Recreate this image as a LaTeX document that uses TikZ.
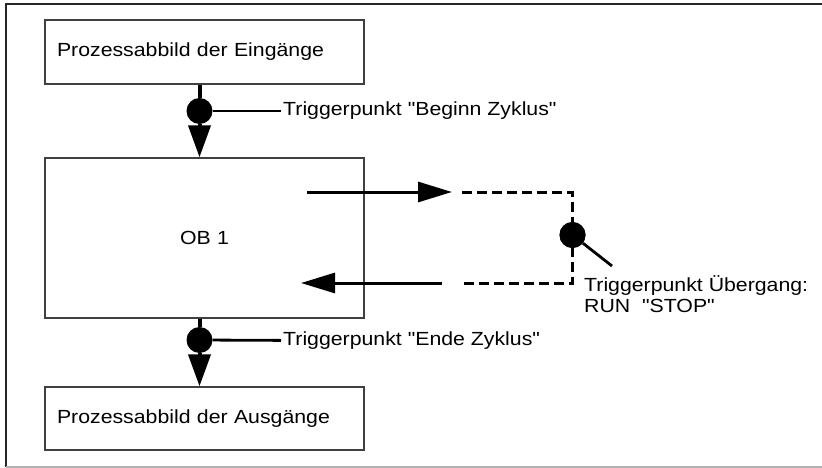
\documentclass[tikz,border=0pt]{standalone}
\usepackage{fontspec}
\setmainfont{Liberation Sans}[FakeStretch=1.12, Ligatures=TeXOff]
\usetikzlibrary{arrows.meta}
\begin{document}
\begin{tikzpicture}[x=1pt, y=-1pt,
    every node/.style={font=\fontsize{19}{21}\selectfont},
    box/.style={draw=black!75, line width=1.4pt, minimum width=319pt, minimum height=#1,
                inner xsep=12pt, text width=295pt, align=left},
    dot/.style={circle, fill=black, minimum size=26pt, inner sep=0pt},
    flow/.style={line width=4pt, black},
    head/.style={flow, -{Triangle[length=32pt, width=22pt]}},
    loopline/.style={line width=3pt, black, -{Triangle[length=34pt, width=20pt]}},
    dashline/.style={line width=3pt, black, dash pattern=on 10pt off 5pt},
    trig/.style={line width=2.8pt, black},
    lbl/.style={inner sep=2pt, anchor=west},
]
\useasboundingbox (0,0) rectangle (822,468);
% frame
\draw[line width=2pt, black!85] (6,467) -- (6,4) -- (822,4);
\draw[line width=1.5pt, black!30] (6,467) -- (822,467);

% boxes
\node[box=64pt]  (in)  at (204.5,52)  {Prozessabbild der Eingänge};
\node[box=160pt, align=center] (ob1) at (204.5,238) {OB 1};
\node[box=63pt]  (out) at (204.5,418.5) {Prozessabbild der Ausgänge};

% trigger points
\node[dot] (t1) at (199.5,111) {};
\node[dot] (t2) at (199.5,340) {};
\node[dot] (t3) at (572.5,235) {};
\node[lbl] (l1) at (281,111) {Triggerpunkt "Beginn Zyklus"};
\node[lbl] (l2) at (281,341) {Triggerpunkt "Ende Zyklus"};
\node[inner sep=0pt, anchor=north west, align=left] (l3) at (584,275)
    {Triggerpunkt Übergang:\\RUN\ \ "STOP"};
\coordinate (e3) at (612,266);

\draw[flow] (in.south -| t1) -- (t1);
\draw[head] (t1) -- (ob1.north -| t1);
\draw[flow] (ob1.south -| t1) -- (t2);
\draw[head] (t2) -- (out.north -| t2);
\draw[trig] (t1) -- (l1);
\draw[trig] (t2) -- (l2);

% RUN -> STOP loop
\coordinate (a1) at (307,192);
\coordinate (a2) at (452,192);
\coordinate (b1) at (462,192);
\coordinate (b2) at (462,283);
\coordinate (c1) at (442,283);
\coordinate (c2) at (301,283);
\draw[loopline] (a1) -- (a2);
\draw[loopline] (c1) -- (c2);
\draw[dashline] (b1) -- (b1 -| t3) -- (b2 -| t3) -- (b2);
\node[dot] at (t3) {};
\draw[trig] (t3) -- (e3);
\end{tikzpicture}
\end{document}
